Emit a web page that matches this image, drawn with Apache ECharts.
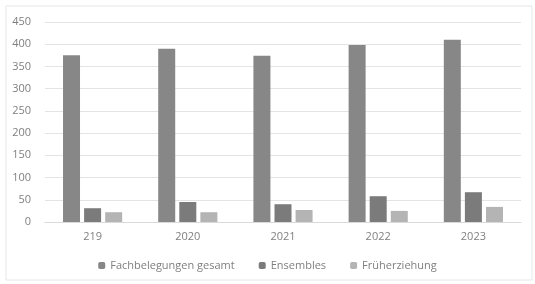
<!DOCTYPE html>
<html>
<head>
<meta charset="utf-8">
<script src="https://cdn.jsdelivr.net/npm/echarts@6/dist/echarts.min.js"></script>
<style>
html, body { margin: 0; padding: 0; background: #fff; }
#main { width: 535px; height: 284px; }
</style>
</head>
<body>
<div id="main"></div>
<script>
var years = ['219', '2020', '2021', '2022', '2023'];
var fachbelegungen = [375, 390, 374, 398, 410];
var ensembles = [31, 45, 40, 58, 67];
var frueh = [22, 22, 27, 25, 34];
var yTicks = [0, 450, 50];

var myChart = echarts.init(document.getElementById('main'));
var txt = '#7f7f7f';
var option = {
    animation: false,
    textStyle: { fontFamily: 'Open Sans', color: txt },
    graphic: [{
        type: 'rect',
        shape: { x: 6, y: 6, width: 526, height: 274 },
        style: { fill: 'none', stroke: '#e6e6e6', lineWidth: 1 }
    }],
    grid: { left: 45, right: 14, top: 22, bottom: 62 },
    legend: {
        bottom: 8,
        left: 'center',
        itemWidth: 7,
        itemHeight: 7,
        itemGap: 24,
        textStyle: { color: txt, fontSize: 11, fontFamily: 'Open Sans' },
        data: ['Fachbelegungen gesamt', 'Ensembles', 'Früherziehung']
    },
    xAxis: {
        type: 'category',
        data: years,
        axisTick: { show: false },
        axisLine: { lineStyle: { color: '#d9d9d9' } },
        axisLabel: { color: txt, fontSize: 11, margin: 9 }
    },
    yAxis: {
        type: 'value',
        min: yTicks[0],
        max: yTicks[1],
        interval: yTicks[2],
        axisLabel: { color: txt, fontSize: 11, margin: 14 },
        splitLine: { lineStyle: { color: '#e4e4e4' } }
    },
    series: [{
        name: 'Fachbelegungen gesamt',
        type: 'bar',
        data: fachbelegungen,
        barWidth: 17,
        barGap: '24%',
        itemStyle: { color: '#878787' }
    }, {
        name: 'Ensembles',
        type: 'bar',
        data: ensembles,
        barWidth: 17,
        barGap: '24%',
        itemStyle: { color: '#7b7b7b' }
    }, {
        name: 'Früherziehung',
        type: 'bar',
        data: frueh,
        barWidth: 17,
        barGap: '24%',
        itemStyle: { color: '#b4b4b4' }
    }]
};
myChart.setOption(option);
</script>
</body>
</html>
